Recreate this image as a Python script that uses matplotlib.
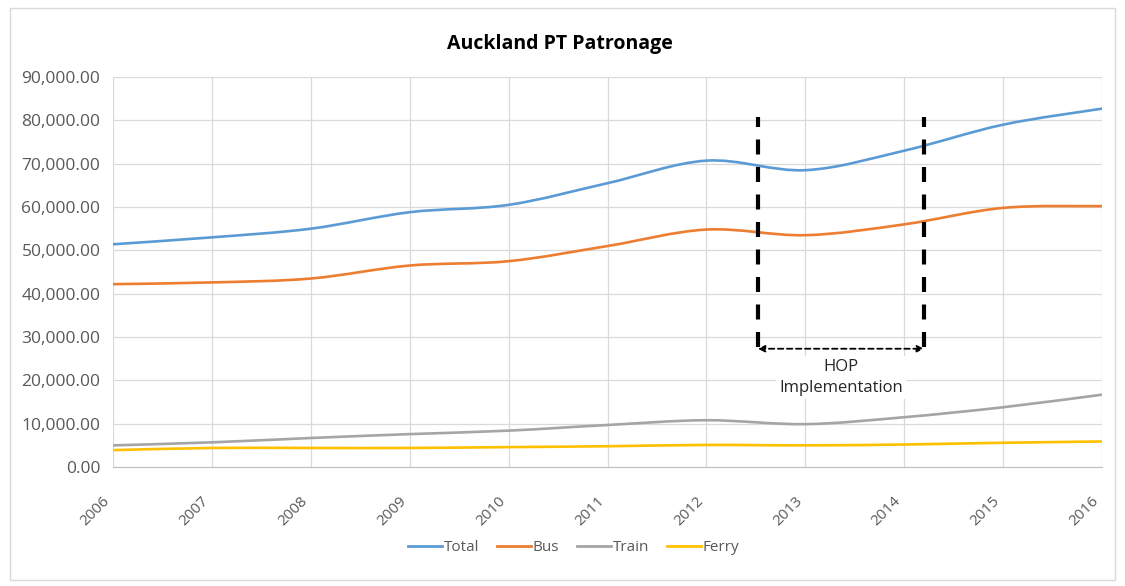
import numpy as np
import matplotlib.pyplot as plt
import matplotlib.transforms as mtrans
from matplotlib.path import Path
from matplotlib.patches import PathPatch, Rectangle
from matplotlib.ticker import FuncFormatter

plt.rcParams['font.family'] = ['Open Sans', 'DejaVu Sans']

years = [2006, 2007, 2008, 2009, 2010, 2011, 2012, 2013, 2014, 2015, 2016]
total = [51400, 53000, 55000, 58800, 60500, 65500, 70700, 68500, 73000, 79000, 82700]
bus = [42200, 42600, 43500, 46500, 47500, 51000, 54800, 53500, 56000, 59800, 60200]
train = [5000, 5700, 6700, 7600, 8400, 9700, 10800, 9900, 11500, 13800, 16700]
ferry = [3900, 4400, 4400, 4400, 4600, 4800, 5100, 5000, 5200, 5600, 5900]

series = [("Total", total, "#5B9BD5"), ("Bus", bus, "#ED7D31"),
          ("Train", train, "#A5A5A5"), ("Ferry", ferry, "#FFC000")]

hop_start, hop_end = 2012.52, 2014.2


def smooth_path(x, y, t=1 / 6):
    # Excel-style smoothed line: cubic bezier between points
    x = np.asarray(x, float)
    y = np.asarray(y, float)
    n = len(x)
    verts = [(x[0], y[0])]
    codes = [Path.MOVETO]
    for i in range(n - 1):
        p0 = np.array([x[max(i - 1, 0)], y[max(i - 1, 0)]])
        p1 = np.array([x[i], y[i]])
        p2 = np.array([x[i + 1], y[i + 1]])
        p3 = np.array([x[min(i + 2, n - 1)], y[min(i + 2, n - 1)]])
        c1 = p1 + (p2 - p0) * t
        c2 = p2 - (p3 - p1) * t
        verts += [tuple(c1), tuple(c2), tuple(p2)]
        codes += [Path.CURVE4] * 3
    return Path(verts, codes)


fig = plt.figure(figsize=(11.25, 5.86), dpi=100)
fig.patches.append(Rectangle((0.009, 0.01), 0.982, 0.976, transform=fig.transFigure,
                             fill=False, edgecolor="#d9d9d9", lw=1))
ax = fig.add_axes([0.1004, 0.203, 0.8792, 0.6656])

for name, vals, col in series:
    ax.add_patch(PathPatch(smooth_path(years, vals), fill=False, edgecolor=col,
                           lw=1.9, capstyle='round'))
    ax.plot([], [], color=col, lw=2, label=name)

ax.set_xlim(2006, 2016)
ax.set_ylim(0, 90000)
ax.set_xticks(years)
ax.set_xticklabels([str(y) for y in years], rotation=45, ha='right', va='top')
shift = mtrans.ScaledTranslation(7 / 72, 0, fig.dpi_scale_trans)
for lab in ax.get_xticklabels():
    lab.set_transform(lab.get_transform() + shift)
ax.set_yticks(np.arange(0, 90001, 10000))
ax.yaxis.set_major_formatter(FuncFormatter(lambda v, p: f"{v:,.2f}"))
ax.tick_params(length=0, colors="#595959")
ax.tick_params(axis='y', labelsize=12.5, pad=9)
ax.tick_params(axis='x', labelsize=11, pad=19)
ax.grid(True, color="#d9d9d9", lw=0.9)
ax.set_axisbelow(True)
for s in ['top', 'right', 'left']:
    ax.spines[s].set_visible(False)
ax.spines['bottom'].set_color("#bfbfbf")

# HOP implementation markers
for xv in (hop_start, hop_end):
    ax.plot([xv, xv], [27800, 80800], color='black', lw=3, ls=(0, (3.6, 3.0)))
ax.annotate("", xy=(hop_end, 27300), xytext=(hop_start, 27300),
            arrowprops=dict(arrowstyle='<|-|>', color='black', lw=1.3,
                            ls=(0, (3, 2)), mutation_scale=10,
                            shrinkA=0, shrinkB=0))
ax.text((hop_start + hop_end) / 2, 20600, "HOP\nImplementation", ha='center',
        va='center', fontsize=12, color='#262626', linespacing=1.45,
        bbox=dict(facecolor='white', edgecolor='none', pad=2))

fig.text(0.498, 0.925, "Auckland PT Patronage", ha='center', va='center',
         fontsize=14, fontweight='bold', color='black')

fig.legend(loc='center', bbox_to_anchor=(0.51, 0.065), ncol=4, frameon=False,
           fontsize=11, handlelength=2.2, handletextpad=0.1, columnspacing=1.2,
           labelcolor="#595959")

fig.savefig("out.png", dpi=100)
